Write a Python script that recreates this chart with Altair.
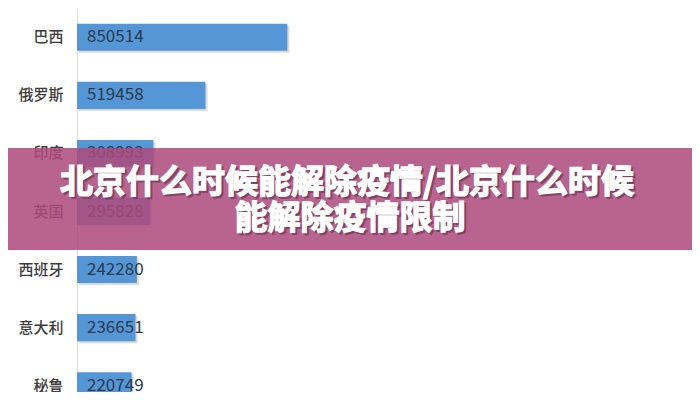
import altair as alt
import pandas as pd

countries = ["巴西", "俄罗斯", "印度", "英国", "西班牙", "意大利", "秘鲁"]
cases = [850514, 519458, 308993, 295828, 242280, 236651, 220749]
banner_lines = ["北京什么时候能解除疫情/北京什么时候", "能解除疫情限制"]

df = pd.DataFrame({"country": countries, "cases": cases})
df["label"] = df["cases"].astype(str)

FONT = "Noto Sans CJK SC"
W, H = 615, 384

y_enc = alt.Y(
    "country:N",
    sort=countries,
    scale=alt.Scale(domain=countries, range=[0, 407], paddingInner=0.534, paddingOuter=0.272),
    axis=alt.Axis(
        title=None, ticks=False, labelPadding=14, labelFontSize=15, labelColor="#3c3c3c",
        labelFont=FONT, labelFontWeight=500, domainColor="#dddddd", domainWidth=1, grid=False,
    ),
)
x_enc = alt.X("cases:Q", scale=alt.Scale(domain=[0, 2486741], nice=False, zero=True), axis=None)

base = alt.Chart(df)

shadow = base.mark_bar(color="#555555", opacity=0.22, xOffset=2, yOffset=2).encode(x=x_enc, y=y_enc)
bars = base.mark_bar(color="#5597d6").encode(x=x_enc, y=y_enc)
values = base.mark_text(align="left", baseline="middle", dx=10, fontSize=17, color="#2b3a4e", font=FONT).encode(
    x=alt.datum(0), y=y_enc, text="label:N"
)

bdf = pd.DataFrame({"line": banner_lines, "row": [0, 1]})
banner = alt.Chart(bdf.iloc[[0]]).mark_rect(color="#ad4a7c", opacity=0.86).encode(
    x=alt.value(-69), x2=alt.value(W), y=alt.value(140), y2=alt.value(242)
)


def line_text(i, x, y, color, opacity=1.0):
    return alt.Chart(bdf.iloc[[i]]).mark_text(
        fontSize=33, fontWeight="bold", font=FONT, color=color, opacity=opacity,
        stroke=color, strokeWidth=1.3,
        align="center", baseline="middle",
    ).encode(x=alt.value(x), y=alt.value(y), text="line:N")


t1s = line_text(0, 272, 177, "#3a1028", 0.4)
t1 = line_text(0, 270, 175, "white")
t2s = line_text(1, 275, 213, "#3a1028", 0.4)
t2 = line_text(1, 273, 211, "white")

chart = alt.layer(shadow, bars, values, banner, t1s, t1, t2s, t2).properties(
    width=W, height=H,
    autosize=alt.AutoSizeParams(type="none"),
    padding={"left": 69, "top": 0, "right": 0, "bottom": 0},
).configure(background="white").configure_view(stroke=None, strokeWidth=0)

chart.save("out.html", embed_options={"renderer": "svg", "actions": False})
